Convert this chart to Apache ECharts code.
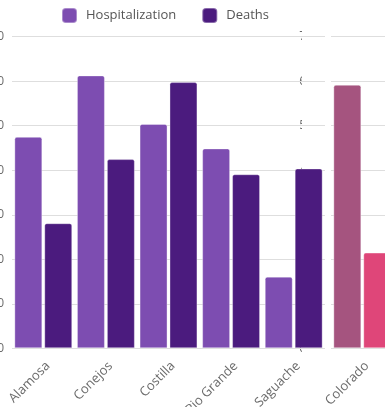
<!DOCTYPE html>
<html>
<head>
<meta charset="utf-8">
<script src="https://cdn.jsdelivr.net/npm/echarts@6/dist/echarts.min.js"></script>
<style>
  html, body { margin: 0; padding: 0; background: #fff; }
  #wrap { position: relative; width: 385px; height: 407px; overflow: hidden; }
  .layer { position: absolute; left: 0; top: 0; width: 385px; height: 407px; }
  #stateChart { z-index: 0; }
  /* white strip between the panels, laid over the state axis labels */
  #gap { position: absolute; left: 302px; top: 20px; width: 29px; height: 340px; background: #fff; z-index: 1; }
  #countyChart { z-index: 2; }
</style>
</head>
<body>
<div id="wrap">
  <div id="stateChart" class="layer"></div>
  <div id="gap"></div>
  <div id="countyChart" class="layer"></div>
</div>
<script>
// San Luis Valley counties vs. the state
const counties = ['Alamosa', 'Conejos', 'Costilla', 'Rio Grande', 'Saguache'];
const countyHospitalization = [47.5, 61.3, 50.4, 44.9, 16.1];
const countyDeaths = [28.1, 42.5, 59.8, 39.1, 40.4];

const state = ['Colorado'];
const stateHospitalization = [5.92];
const stateDeaths = [2.15];

const countyTicks = [0, 10, 20, 30, 40, 50, 60, 70];
const stateTicks = [0, 1, 2, 3, 4, 5, 6, 7];

const FONT = '"Open Sans", sans-serif';
const GRID_COLOR = '#dedede';
const LABEL_COLOR = '#6b6b6b';

function barSeries(name, data, color) {
  return {
    name: name,
    type: 'bar',
    data: data,
    barGap: '7%',
    barCategoryGap: '7.5%',
    itemStyle: {
      color: color,
      borderRadius: [2, 2, 0, 0],
      borderColor: 'rgba(255,255,255,0.35)',
      borderWidth: 1
    },
    emphasis: { disabled: true }
  };
}

function categoryAxis(data) {
  return {
    type: 'category', data: data,
    axisLine: { show: false }, axisTick: { show: false },
    axisLabel: {
      rotate: 45, margin: 11, verticalAlign: 'top',
      fontFamily: FONT, fontSize: 13, color: LABEL_COLOR
    }
  };
}

function valueAxis(ticks, labelMargin) {
  return {
    type: 'value',
    min: ticks[0], max: ticks[ticks.length - 1], interval: ticks[1] - ticks[0],
    axisLine: { show: false }, axisTick: { show: false },
    splitLine: { lineStyle: { color: GRID_COLOR, width: 1 } },
    axisLabel: { margin: labelMargin, fontFamily: FONT, fontSize: 12, color: LABEL_COLOR }
  };
}

// state panel (right)
const stateChart = echarts.init(document.getElementById('stateChart'), null, { renderer: 'canvas' });
stateChart.setOption({
  animation: false,
  backgroundColor: '#fff',
  grid: { left: 331, top: 36.7, width: 62.6, bottom: 58.7, containLabel: false, outerBoundsMode: 'none' },
  xAxis: categoryAxis(state),
  yAxis: valueAxis(stateTicks, 25),
  series: [
    barSeries('Colorado hospitalization', stateHospitalization, '#a5547f'),
    barSeries('Colorado deaths', stateDeaths, '#df4679')
  ]
});

// county panel (left), drawn on a transparent canvas above
const countyChart = echarts.init(document.getElementById('countyChart'), null, { renderer: 'canvas' });
countyChart.setOption({
  animation: false,
  backgroundColor: 'transparent',
  legend: {
    left: 56,
    top: 2,
    itemWidth: 15,
    itemHeight: 15,
    itemGap: 25,
    icon: 'roundRect',
    data: ['Hospitalization', 'Deaths'],
    textStyle: { fontFamily: FONT, fontSize: 13, color: '#555', padding: [0, 0, 0, 4] }
  },
  grid: { left: 12, top: 36.7, width: 313, bottom: 58.7, containLabel: false, outerBoundsMode: 'none' },
  xAxis: categoryAxis(counties),
  yAxis: valueAxis(countyTicks, 8),
  series: [
    barSeries('Hospitalization', countyHospitalization, '#7d4db1'),
    barSeries('Deaths', countyDeaths, '#4b1b7e')
  ]
});
</script>
</body>
</html>
